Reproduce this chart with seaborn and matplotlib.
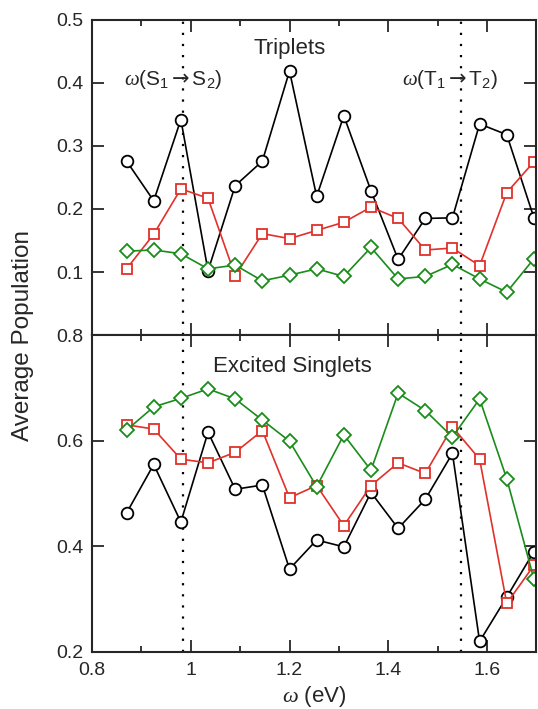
import numpy as np
import pandas as pd
import matplotlib
matplotlib.use("Agg")
import matplotlib.pyplot as plt
import seaborn as sns

omega = [0.87, 0.925, 0.98, 1.035, 1.09, 1.145, 1.2, 1.255, 1.31, 1.365,
         1.42, 1.475, 1.53, 1.585, 1.64, 1.695]

trip_black = [0.276, 0.213, 0.342, 0.102, 0.237, 0.276, 0.419, 0.220, 0.348, 0.229,
              0.120, 0.185, 0.186, 0.335, 0.318, 0.186]
trip_red = [0.105, 0.160, 0.232, 0.217, 0.094, 0.161, 0.153, 0.166, 0.179, 0.203,
            0.185, 0.135, 0.138, 0.110, 0.226, 0.275]
trip_green = [0.133, 0.135, 0.129, 0.105, 0.111, 0.086, 0.095, 0.105, 0.093, 0.139,
              0.089, 0.093, 0.112, 0.089, 0.068, 0.121]

sing_black = [0.463, 0.555, 0.446, 0.616, 0.508, 0.516, 0.357, 0.412, 0.399, 0.502,
              0.434, 0.489, 0.576, 0.220, 0.304, 0.390]
sing_red = [0.630, 0.622, 0.565, 0.558, 0.578, 0.619, 0.492, 0.515, 0.439, 0.515,
            0.558, 0.538, 0.626, 0.565, 0.292, 0.364]
sing_green = [0.620, 0.664, 0.680, 0.698, 0.679, 0.639, 0.599, 0.513, 0.611, 0.544,
              0.690, 0.657, 0.607, 0.679, 0.528, 0.338]

transitions = [0.985, 1.548]

sns.set_style("ticks")
plt.rcParams['font.family'] = ['Liberation Sans', 'DejaVu Sans']
plt.rcParams['mathtext.fontset'] = 'custom'
plt.rcParams['mathtext.rm'] = 'Liberation Sans'
plt.rcParams['mathtext.it'] = 'Liberation Serif:italic'
plt.rcParams['mathtext.sf'] = 'DejaVu Sans'

fig = plt.figure(figsize=(5.38, 7.09), dpi=100)
ax1 = fig.add_axes([0.171, 0.5275, 0.826, 0.4443])
ax2 = fig.add_axes([0.171, 0.0804, 0.826, 0.4471])

black = '#000000'
red = '#e2302a'
green = '#1a8c1a'

def draw(ax, ys):
    styles = [(black, 'o', 8.4), (red, 's', 6.8), (green, 'D', 6.8)]
    for y, (c, m, ms) in zip(ys, styles):
        df = pd.DataFrame({'omega': omega, 'pop': y})
        sns.lineplot(data=df, x='omega', y='pop', ax=ax, color=c, marker=m,
                     markersize=ms, markerfacecolor='white', markeredgecolor=c,
                     markeredgewidth=1.3, linewidth=1.2, legend=False)
    for xv in transitions:
        ax.axvline(xv, color='black', linestyle=(0, (1, 4)), linewidth=1.6, zorder=0)
    ax.set_xlim(0.8, 1.7)
    ax.tick_params(which='both', direction='in', top=True, right=True, width=1.3,
                   labelsize=14)
    ax.tick_params(which='major', length=8.5)
    ax.tick_params(which='minor', length=4.5)
    ax.tick_params(axis='y', pad=6)
    ax.tick_params(axis='x', pad=7)
    ax.set_xticks([0.8, 1.0, 1.2, 1.4, 1.6])
    ax.set_xticks([0.9, 1.1, 1.3, 1.5, 1.7], minor=True)
    ax.set_xticklabels(['0.8', '1', '1.2', '1.4', '1.6'])
    for s in ax.spines.values():
        s.set_linewidth(1.5)
    ax.set_xlabel('')
    ax.set_ylabel('')

draw(ax1, [trip_black, trip_red, trip_green])
draw(ax2, [sing_black, sing_red, sing_green])

ax1.set_ylim(0, 0.5)
ax1.set_yticks([0, 0.1, 0.2, 0.3, 0.4, 0.5])
ax1.set_yticklabels(['', '0.1', '0.2', '0.3', '0.4', '0.5'])
ax1.tick_params(labelbottom=False)

ax2.set_ylim(0.2, 0.8)
ax2.set_yticks([0.2, 0.4, 0.6, 0.8])
ax2.set_yticklabels(['0.2', '0.4', '0.6', '0.8'])

ax1.text(1.2, 0.455, 'Triplets', ha='center', va='center', fontsize=16)
ax1.text(0.965, 0.405, r'$\omega$(S$_1$$\mathsf{\rightarrow}$S$_2$)', ha='center', va='center', fontsize=15)
ax1.text(1.526, 0.405, r'$\omega$(T$_1$$\mathsf{\rightarrow}$T$_2$)', ha='center', va='center', fontsize=15)
ax2.text(1.205, 0.74, 'Excited Singlets', ha='center', va='center', fontsize=16)

fig.text(0.585, 0.017, r'$\omega$ (eV)', ha='center', va='center', fontsize=16)
fig.text(0.042, 0.527, 'Average Population', rotation=90, ha='center', va='center', fontsize=17.5)

fig.savefig('out.png', dpi=100)
